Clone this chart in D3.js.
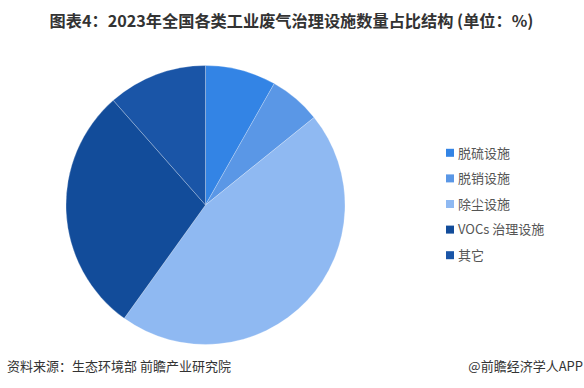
<!DOCTYPE html>
<html>
<head>
<meta charset="utf-8">
<script src="https://cdn.jsdelivr.net/npm/d3@7"></script>
<style>
  body { margin: 0; background: #fff; }
  text { font-family: "Noto Sans CJK SC", "Noto Sans", sans-serif; }
</style>
</head>
<body>
<script>
// dados
const categorias = ['脱硫设施', '脱销设施', '除尘设施', 'VOCs 治理设施', '其它']
const valores = [8.2, 6.0, 45.7, 28.6, 11.5]
const cores = ['#3384e5', '#5a97e6', '#8fb9f2', '#124c9a', '#1a55a7']

const largura = 584
const altura = 388

var svg = d3.select('body').append('svg')
  .attr('width', largura)
  .attr('height', altura)

// título
svg.append('text')
  .attr('x', 291.5).attr('y', 27)
  .attr('text-anchor', 'middle')
  .attr('font-size', 16.2)
  .attr('font-weight', 'bold')
  .attr('fill', '#333')
  .text('图表4：2023年全国各类工业废气治理设施数量占比结构 (单位：%)')

// pizza
var dados = categorias.map((c, i) => ({nome: c, valor: valores[i]}))
var cor = d3.scaleOrdinal().domain(categorias).range(cores)

var pie = d3.pie().sort(null).value(d => d.valor)
var arco = d3.arc().innerRadius(0).outerRadius(139.5)

var grupo = svg.append('g')
  .attr('transform', 'translate(205.5,205)')

grupo.selectAll('path')
  .data(pie(dados))
  .join('path')
    .attr('d', arco)
    .attr('fill', d => cor(d.data.nome))
    .attr('stroke', '#fff')
    .attr('stroke-width', 0.4)
    .attr('stroke-opacity', 0.6)

// legenda
var legenda = d3.scaleBand().domain(categorias).range([140, 268])

var item = svg.append('g').selectAll('g')
  .data(categorias)
  .join('g')
    .attr('transform', d => 'translate(446,' + (legenda(d) + legenda.bandwidth() / 2) + ')')

item.append('rect')
  .attr('x', 0).attr('y', -4)
  .attr('width', 8).attr('height', 8)
  .attr('fill', d => cor(d))

item.append('text')
  .attr('x', 12).attr('y', 4.8)
  .attr('font-size', 13)
  .attr('fill', '#555')
  .text(d => d)

// rodapé
svg.append('text')
  .attr('x', 7).attr('y', 371)
  .attr('font-size', 13)
  .attr('fill', '#333')
  .text('资料来源：生态环境部 前瞻产业研究院')

svg.append('text')
  .attr('x', 583).attr('y', 371)
  .attr('text-anchor', 'end')
  .attr('font-size', 13)
  .attr('fill', '#333')
  .text('@前瞻经济学人APP')
</script>
</body>
</html>
